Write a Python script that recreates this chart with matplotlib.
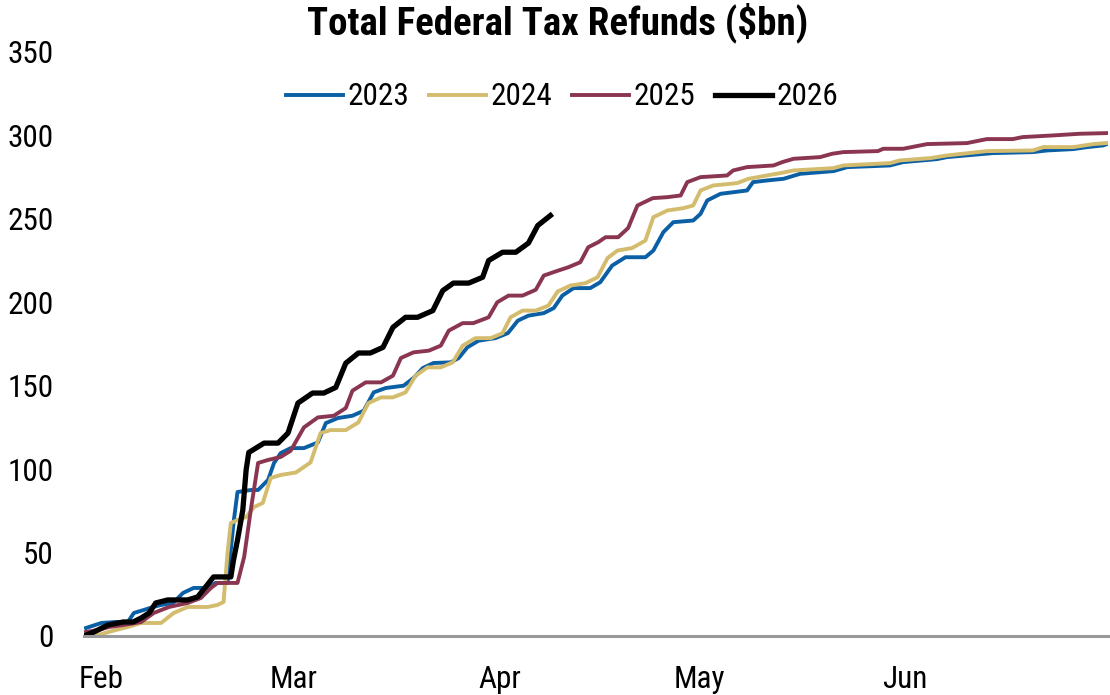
import matplotlib
matplotlib.use("Agg")
import matplotlib.pyplot as plt

plt.rcParams['font.family'] = ['Roboto Condensed', 'Roboto', 'DejaVu Sans']

# x values are days since Feb 1, y values in $bn
days_2023 = [-3.3, -1.0, 1.2, 3.0, 3.9, 5.4, 6.8, 8.0, 9.8, 11.3, 12.9, 15.0, 16.2, 18.0, 18.9, 19.5,
             21.5, 22.6, 24.1, 25.0, 26.0, 27.5, 29.5, 31.6, 32.8, 34.6, 36.8, 38.5, 40.0, 41.8, 44.5,
             46.0, 47.4, 49.0, 51.6, 52.8, 54.1, 55.8, 58.3, 60.2, 61.7, 63.3, 65.6, 67.1, 68.4, 70.1,
             72.6, 74.1, 75.9, 77.9, 80.9, 82.1, 83.6, 85.1, 88.1, 89.2, 90.2, 92.2, 96.2, 97.1, 99.2,
             101.7, 104.2, 109.2, 111.3, 117.7, 119.7, 124.8, 126.3, 133.2, 139.2, 141.4, 145.3, 147.4,
             149.8, 150.5]
vals_2023 = [4.8, 7.8, 8.4, 8.4, 13.8, 15.6, 17.4, 18.6, 19.8, 25.8, 28.8, 28.8, 31.8, 31.8, 67.7, 86.3,
             87.5, 87.5, 93.5, 103.7, 109.6, 112.6, 112.6, 116, 127.6, 130.6, 132, 135, 146, 148.6, 150,
             154.6, 160.6, 163.6, 164, 166.6, 173, 177, 178.5, 181.5, 189, 192, 193.5, 196.5, 204, 208.5,
             208.5, 212, 222, 227, 227, 231, 242, 248, 249, 253, 261, 265, 267, 272, 273,
             274, 277, 278.6, 281, 282, 284, 285.8, 287, 289.4, 290, 291, 291.8, 293,
             294, 295]

days_2024 = [-3.3, -1.5, 1.2, 3.0, 5.0, 8.0, 9.9, 12.0, 15.0, 16.5, 17.4, 18.0, 18.5, 19.5, 20.8, 22.0,
             23.3, 24.5, 26.0, 28.3, 30.5, 32.0, 33.5, 35.8, 37.7, 39.2, 41.1, 42.9, 44.8, 46.3, 48.1,
             50.1, 51.9, 53.4, 55.3, 57.6, 59.4, 60.6, 62.4, 64.4, 66.3, 67.7, 69.6, 71.9, 73.7, 75.2,
             76.7, 78.9, 80.9, 82.1, 84.2, 86.6, 88.1, 89.2, 91.1, 94.7, 96.4, 99.2, 101.2, 103.2, 109.2,
             110.7, 117.7, 119.2, 123.8, 126.3, 132.3, 139.2, 140.8, 145.3, 148.3, 150.5]
vals_2024 = [0, 0.6, 3.6, 5.4, 7.8, 7.8, 13.8, 17.4, 17.4, 18.6, 20.4, 49.7, 67.7, 69.5, 71.3, 77.3,
             79.7, 94.7, 96.5, 98, 104, 121.6, 123.4, 123.4, 128, 139.6, 143, 143, 146, 156, 161,
             161, 164, 174, 178.5, 178.5, 181.5, 191, 195, 195, 198, 206.5, 210, 211.5, 215, 226.5,
             231, 232.5, 237, 251, 255, 256.4, 258, 267, 270, 271.4, 274, 276, 277.4, 279, 280.4,
             282, 283.4, 285, 286.4, 288, 290.6, 291, 293, 293, 294.8, 295.5]

days_2025 = [-3.3, -1.5, 0.2, 2.4, 5.0, 6.9, 9.2, 12.0, 14.0, 15.5, 16.5, 19.5, 20.5, 21.5, 22.6, 24.1,
             26.0, 27.5, 29.5, 31.6, 34.0, 35.8, 36.8, 38.8, 41.1, 42.9, 44.1, 46.0, 48.3, 50.1, 51.3,
             53.4, 55.0, 57.3, 58.6, 60.3, 62.4, 64.4, 65.6, 67.4, 69.3, 71.1, 72.3, 73.8, 74.9, 76.8,
             78.3, 79.7, 82.0, 84.2, 86.2, 87.2, 89.2, 93.2, 94.1, 96.2, 100.2, 101.5, 103.2, 107.2,
             109.0, 110.7, 115.9, 116.7, 119.7, 123.3, 129.3, 132.3, 136.2, 137.7, 142.3, 146.3, 150.5]
vals_2025 = [2.4, 3.6, 5.4, 6.6, 8.4, 13.8, 17.4, 19.8, 22.8, 28.8, 31.8, 31.8, 47.3, 75.5, 103.7, 105.5,
             107.3, 111, 125, 131, 132, 136.6, 147, 152, 152, 156, 166.6, 170, 171, 174, 183,
             187.5, 187.5, 191, 200, 204, 204, 207.5, 216, 218.5, 221, 224, 233, 236, 239, 239,
             244.5, 258, 262.4, 263, 264, 272, 275, 276, 279, 281, 282, 284, 286, 287,
             289, 290, 290.6, 292, 292, 294.8, 295.4, 297.8, 297.8, 299, 300, 301, 301.4]

days_2026 = [-3.6, -2.1, 0.0, 2.3, 3.8, 5.0, 6.2, 7.2, 9.0, 12.0, 13.5, 14.7, 15.9, 18.5, 18.9, 19.5,
             20.3, 20.8, 21.2, 23.5, 25.6, 27.1, 28.6, 30.8, 32.5, 34.3, 35.8, 37.7, 39.5, 41.4, 42.9,
             44.8, 46.6, 48.9, 50.4, 52.0, 54.3, 56.4, 57.3, 59.4, 61.4, 63.3, 64.7, 66.6]
vals_2026 = [0, 2.4, 6.6, 8.4, 8.4, 10.8, 13.8, 19.8, 21.6, 21.6, 23.4, 29.4, 35.4, 35.4, 45.5, 57.5,
             75.5, 99.5, 110, 115.6, 115.6, 121.6, 139.6, 145.6, 145.6, 149, 163.5, 169.6, 169.6, 173, 185,
             191, 191, 195, 207, 211.5, 211.5, 215, 225, 230, 230, 235.5, 246, 252]

month_ticks = [-1, 28, 59, 89, 120]
month_labels = ['Feb', 'Mar', 'Apr', 'May', 'Jun']

fig = plt.figure(figsize=(11.1, 6.95), dpi=100)
ax = fig.add_axes([0.0757, 0.0849, 0.9223, 0.8403])

ax.plot(days_2023, vals_2023, color='#0b5fa5', lw=2.8, label='2023')
ax.plot(days_2024, vals_2024, color='#d4bc6e', lw=2.8, label='2024')
ax.plot(days_2025, vals_2025, color='#8b3650', lw=2.8, label='2025')
ax.plot(days_2026, vals_2026, color='black', lw=3.8, label='2026')

ax.set_xlim(-3.6, 150.5)
ax.set_ylim(0, 350)
ax.set_yticks(range(0, 351, 50))
ax.set_xticks(month_ticks)
ax.set_xticklabels(month_labels)
ax.tick_params(axis='both', length=0, labelsize=22.5)
ax.tick_params(axis='y', pad=22)
ax.tick_params(axis='x', pad=21)

for s in ['top', 'right', 'left']:
    ax.spines[s].set_visible(False)
ax.spines['bottom'].set_color('#999999')
ax.spines['bottom'].set_linewidth(2.2)

ax.legend(loc='center', bbox_to_anchor=(0.467, 0.923), ncol=4, frameon=False,
          fontsize=22.5, handlelength=1.8, handletextpad=0.15, columnspacing=0.65)

fig.text(0.502, 0.968, 'Total Federal Tax Refunds ($bn)', ha='center', va='center',
         fontsize=28, fontweight='bold')

fig.savefig('out.png', dpi=100)
